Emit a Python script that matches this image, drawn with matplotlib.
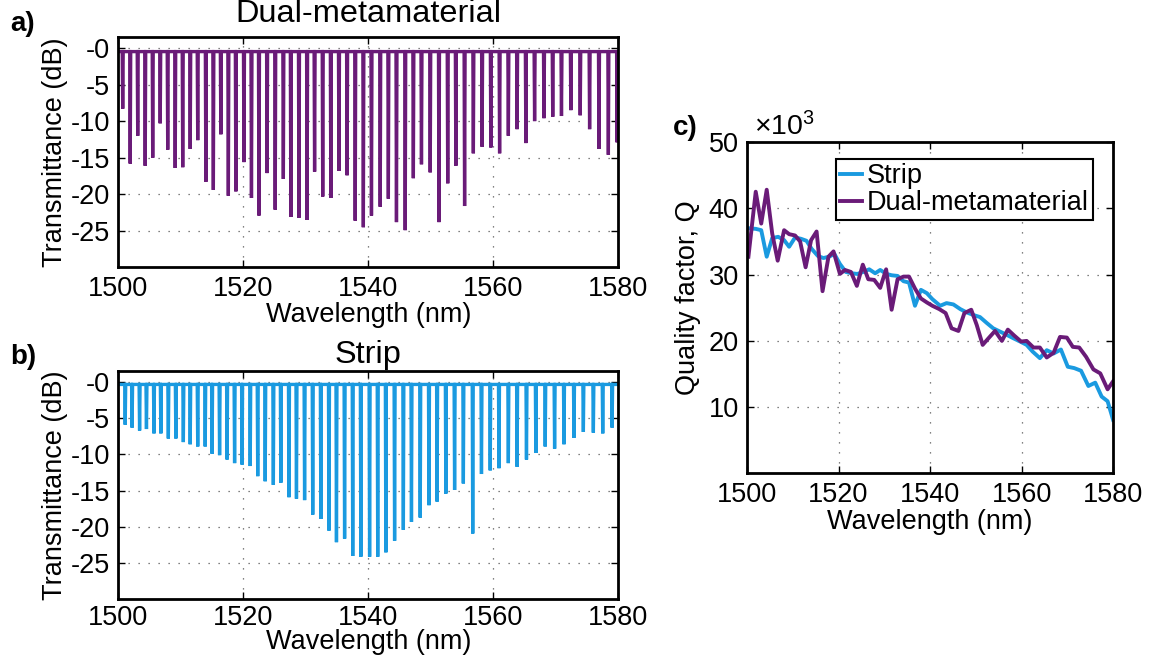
import numpy as np
import matplotlib
matplotlib.use("Agg")
import matplotlib.pyplot as plt

plt.rcParams['font.family'] = ['Liberation Sans', 'DejaVu Sans']
plt.rcParams['font.size'] = 19.5
plt.rcParams['mathtext.fontset'] = 'custom'
plt.rcParams['mathtext.rm'] = 'Liberation Sans'
plt.rcParams['mathtext.it'] = 'Liberation Sans'
plt.rcParams['mathtext.bf'] = 'Liberation Sans:bold'

# resonance dips (dual-metamaterial): wavelength (nm), depth (dB)
dual_dip_wl = [1500.7, 1501.9, 1503.1, 1504.3, 1505.5, 1506.7, 1507.9, 1509.1, 1510.3, 1511.5,
               1512.7, 1514.0, 1515.2, 1516.4, 1517.6, 1518.8, 1520.1, 1521.3, 1522.5, 1523.8,
               1525.1, 1526.4, 1527.6, 1528.9, 1530.2, 1531.4, 1532.7, 1534.0, 1535.3, 1536.6,
               1537.9, 1539.2, 1540.5, 1541.9, 1543.2, 1544.5, 1545.9, 1547.2, 1548.5, 1549.9,
               1551.3, 1552.7, 1554.0, 1555.4, 1556.8, 1558.2, 1559.6, 1561.0, 1562.4, 1563.8,
               1565.2, 1566.6, 1568.1, 1569.5, 1570.9, 1572.4, 1573.9, 1575.4, 1576.9, 1578.4,
               1579.8]
dual_dip_db = [8.3, 15.8, 12.0, 16.1, 15.0, 10.3, 13.9, 16.4, 16.3, 13.8,
               12.6, 18.3, 19.4, 11.8, 20.2, 19.6, 15.6, 20.5, 22.9, 17.1,
               22.1, 17.9, 23.1, 23.2, 23.5, 16.9, 20.3, 20.5, 16.8, 17.4,
               23.6, 24.5, 22.9, 21.7, 20.6, 23.8, 24.9, 17.8, 15.9, 17.0,
               23.8, 18.5, 16.1, 21.6, 14.4, 13.5, 13.6, 14.4, 12.0, 11.1,
               13.0, 10.0, 9.6, 9.4, 9.3, 8.5, 9.2, 11.1, 13.8, 14.6,
               12.9]
dual_base = -0.5

# resonance dips (strip)
strip_dip_wl = [1501.1, 1502.2, 1503.4, 1504.5, 1505.7, 1506.8, 1508.0, 1509.2, 1510.4, 1511.5,
                1512.7, 1513.9, 1515.0, 1516.2, 1517.4, 1518.6, 1519.8, 1521.1, 1522.3, 1523.5,
                1524.8, 1526.0, 1527.3, 1528.5, 1529.8, 1531.1, 1532.4, 1533.7, 1534.9, 1536.2,
                1537.5, 1538.8, 1540.2, 1541.5, 1542.8, 1544.2, 1545.6, 1546.9, 1548.3, 1549.7,
                1551.0, 1552.4, 1553.8, 1555.2, 1556.7, 1558.1, 1559.5, 1560.9, 1562.4, 1563.8,
                1565.3, 1566.8, 1568.3, 1569.8, 1571.3, 1572.9, 1574.4, 1576.0, 1577.5, 1579.0]
strip_dip_db = [5.9, 6.3, 6.7, 6.5, 7.1, 7.1, 7.8, 7.8, 8.3, 8.6,
                8.9, 8.9, 9.9, 10.1, 10.7, 11.2, 11.4, 11.6, 13.0, 13.7,
                14.2, 13.9, 15.9, 16.1, 16.3, 18.3, 18.9, 20.5, 22.1, 21.6,
                24.0, 24.1, 24.1, 24.1, 23.5, 21.9, 20.4, 19.3, 18.7, 17.0,
                16.5, 15.4, 14.9, 14.0, 20.9, 12.7, 12.2, 11.9, 11.2, 11.7,
                10.7, 9.8, 8.9, 9.2, 8.6, 7.7, 6.9, 7.0, 7.1, 6.3]
strip_base = -0.35

# quality factor (x10^3) for panel c
q_dual_wl = [1500.3, 1501.9, 1503.1, 1504.3, 1505.5, 1506.7, 1508.1, 1509.2, 1510.5, 1511.6,
             1512.8, 1514.0, 1515.2, 1516.5, 1517.8, 1518.9, 1520.3, 1521.4, 1522.7, 1524.0,
             1525.3, 1526.5, 1527.8, 1529.1, 1530.4, 1531.6, 1532.9, 1534.2, 1535.4, 1536.7,
             1538.0, 1539.3, 1540.5, 1542.0, 1543.4, 1544.7, 1546.2, 1547.5, 1549.0, 1550.2,
             1551.5, 1552.9, 1554.2, 1555.7, 1557.0, 1558.4, 1559.9, 1561.1, 1562.6, 1564.0,
             1565.5, 1567.0, 1568.4, 1569.9, 1571.2, 1572.6, 1574.1, 1575.7, 1577.2, 1578.8,
             1580.0]
q_dual = [32.7, 42.5, 37.7, 42.8, 36.2, 32.1, 36.7, 36.1, 35.9, 35.0,
          31.1, 35.2, 36.5, 27.5, 32.7, 33.5, 30.1, 30.7, 30.4, 28.3,
          31.5, 29.3, 29.2, 28.0, 30.8, 24.7, 29.3, 29.7, 29.7, 27.9,
          26.4, 25.8, 25.3, 24.8, 24.2, 21.9, 21.5, 24.2, 24.7, 22.4,
          19.4, 20.5, 21.5, 20.0, 21.7, 20.8, 19.9, 20.0, 19.0, 19.0,
          17.5, 18.2, 20.6, 20.5, 19.1, 19.0, 17.6, 15.7, 15.1, 12.7,
          13.9]
q_strip_wl = [1500.3, 1501.9, 1503.1, 1504.3, 1505.5, 1506.8, 1508.1, 1509.2, 1510.5, 1511.8,
              1513.0, 1514.1, 1515.5, 1516.7, 1517.9, 1519.1, 1520.3, 1521.6, 1522.9, 1524.1,
              1525.4, 1526.7, 1528.0, 1529.1, 1530.5, 1531.6, 1532.9, 1534.2, 1535.4, 1536.7,
              1538.0, 1539.3, 1540.5, 1542.2, 1543.6, 1545.1, 1546.6, 1548.0, 1549.5, 1550.9,
              1552.4, 1553.8, 1555.3, 1556.8, 1558.2, 1559.7, 1561.1, 1562.4, 1564.0, 1565.5,
              1567.0, 1568.6, 1570.1, 1571.5, 1573.0, 1574.6, 1576.1, 1577.5, 1578.8, 1580.0]
q_strip = [37.0, 36.9, 36.7, 32.7, 35.5, 35.7, 35.2, 34.2, 35.6, 35.4,
           35.1, 33.9, 32.8, 32.5, 32.7, 33.1, 31.6, 30.4, 30.2, 30.1,
           30.4, 30.8, 30.2, 30.7, 30.1, 29.9, 29.8, 29.0, 28.8, 25.3,
           27.7, 27.2, 26.3, 25.3, 25.7, 25.5, 24.8, 24.3, 23.9, 23.6,
           22.7, 21.9, 21.4, 20.9, 20.4, 19.9, 19.4, 18.4, 17.4, 18.6,
           18.1, 18.7, 16.1, 15.9, 15.5, 13.2, 13.7, 11.6, 10.9, 8.1]

wl_ticks = [1500, 1520, 1540, 1560, 1580]
db_ticks = [0, -5, -10, -15, -20, -25]
db_labels = ['-0', '-5', '-10', '-15', '-20', '-25']
q_ticks = [10, 20, 30, 40, 50]

purple = '#6a1b78'
blue = '#1a9ae0'


def spectrum(centres, depths, base):
    # trace: flat baseline with a narrow dip at each resonance
    xs, ys = [1500.0], [base]
    for c, d in zip(centres, depths):
        xs += [c - 0.08, c, c + 0.08]
        ys += [base, -d, base]
    xs.append(1580.0)
    ys.append(base)
    return xs, ys


def style(ax):
    for s in ax.spines.values():
        s.set_linewidth(2.0)
    ax.tick_params(direction='in', top=True, right=True, length=5, width=1, pad=6)
    ax.grid(True, color='0.35', linestyle=(0, (1, 7)), linewidth=0.9)
    ax.set_axisbelow(True)


fig = plt.figure(figsize=(11.5, 6.59), dpi=100)

ax_a = fig.add_axes([0.1029, 0.5941, 0.4348, 0.3498])
ax_b = fig.add_axes([0.1029, 0.0903, 0.4348, 0.3467])
ax_c = fig.add_axes([0.6496, 0.2815, 0.3183, 0.5030])

for ax, wl, db, base, col, title, tpad, xpad, tkpad in [
        (ax_a, dual_dip_wl, dual_dip_db, dual_base, purple, 'Dual-metamaterial', 10.5, 0, 6),
        (ax_b, strip_dip_wl, strip_dip_db, strip_base, blue, 'Strip', 6, -1.5, 4)]:
    xs, ys = spectrum(wl, db, base)
    ax.plot(xs, ys, color=col, lw=2.4, solid_joinstyle='miter')
    ax.set_xlim(1500, 1580)
    ax.set_ylim(-30, 1.5)
    ax.set_xticks(wl_ticks)
    ax.set_yticks(db_ticks)
    ax.set_yticklabels(db_labels)
    ax.set_xlabel('Wavelength (nm)', labelpad=xpad)
    ax.set_ylabel('Transmittance (dB)')
    ax.yaxis.set_label_coords(-0.1, 0.5)
    ax.set_title(title, pad=tpad)
    style(ax)
    ax.tick_params(axis='x', pad=tkpad)

ax_c.plot(q_strip_wl, q_strip, color=blue, lw=2.8, label='Strip')
ax_c.plot(q_dual_wl, q_dual, color=purple, lw=2.8, label='Dual-metamaterial')
ax_c.set_xlim(1500, 1580)
ax_c.set_ylim(0, 50)
ax_c.set_xticks(wl_ticks)
ax_c.set_yticks(q_ticks)
ax_c.set_xlabel('Wavelength (nm)', labelpad=1)
ax_c.set_ylabel('Quality factor, Q')
ax_c.yaxis.set_label_coords(-0.125, 0.53)
style(ax_c)
ax_c.text(0.02, 1.003, '\u00d710$^{3}$', transform=ax_c.transAxes, ha='left', va='bottom',
          fontsize=20.5)
leg = ax_c.legend(loc='upper left', bbox_to_anchor=(0.243, 0.949), borderaxespad=0,
                  handlelength=0.8, handletextpad=0.2, labelspacing=0.05, borderpad=0.15,
                  fancybox=False, framealpha=1, edgecolor='black')
leg.get_frame().set_linewidth(1.5)

fig.text(0.009, 0.964, 'a)', fontsize=20, fontweight='bold', va='center')
fig.text(0.009, 0.458, 'b)', fontsize=20, fontweight='bold', va='center')
fig.text(0.585, 0.806, 'c)', fontsize=20, fontweight='bold', va='center')

fig.savefig('out.png', dpi=100)
